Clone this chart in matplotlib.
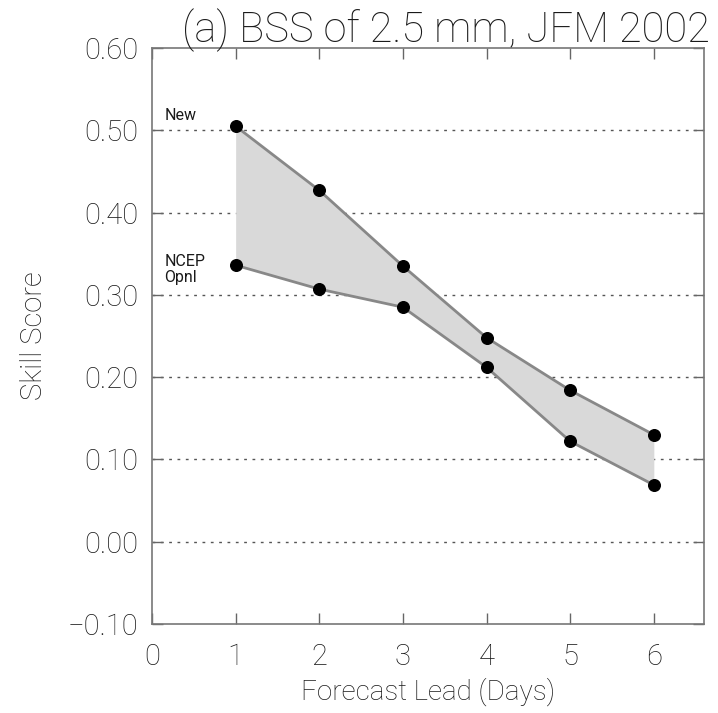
import matplotlib
matplotlib.use('Agg')
import matplotlib.pyplot as plt

# Дані
days = [1, 2, 3, 4, 5, 6]
bss_new = [0.505, 0.427, 0.335, 0.248, 0.184, 0.130]
bss_ncep = [0.336, 0.307, 0.285, 0.212, 0.122, 0.069]
x_ticks = [0, 1, 2, 3, 4, 5, 6]
y_ticks = [-0.10, 0.00, 0.10, 0.20, 0.30, 0.40, 0.50, 0.60]
grid_levels = [0.00, 0.10, 0.20, 0.30, 0.40, 0.50]

text_color = '#1a1a1a'
plt.rcParams['font.family'] = ['Roboto', 'DejaVu Sans']
plt.rcParams['font.weight'] = 'light'
plt.rcParams['axes.titleweight'] = 'light'
plt.rcParams['axes.labelweight'] = 'light'

fig = plt.figure(figsize=(7.18, 7.13), dpi=100)
ax = fig.add_axes([0.2117, 0.1248, 0.7688, 0.8079])

# Сітка
for g in grid_levels:
    ax.axhline(g, color='#555555', linestyle=(0, (2, 4)), linewidth=1.0, zorder=1)

# Область між кривими
ax.fill_between(days, bss_ncep, bss_new, color='#d9d9d9', zorder=2, linewidth=0)
ax.plot(days, bss_new, color='#888888', linewidth=2, zorder=3)
ax.plot(days, bss_ncep, color='#888888', linewidth=2, zorder=3)
ax.scatter(days, bss_new, s=70, color='black', zorder=4)
ax.scatter(days, bss_ncep, s=70, color='black', zorder=4)

ax.text(0.15, bss_new[0] + 0.004, 'New', fontsize=11.5, color=text_color,
        va='bottom', weight='normal')
ax.text(0.15, bss_ncep[0] - 0.005, 'NCEP\nOpnl', fontsize=11.5, color=text_color,
        va='center', linespacing=1.1, weight='normal')

ax.set_xlim(0, 6.6)
ax.set_ylim(-0.10, 0.60)
ax.set_xticks(x_ticks)
ax.set_yticks(y_ticks)
ax.set_yticklabels([f'{v:.2f}'.replace('-', '\u2212') for v in y_ticks])
ax.tick_params(direction='in', top=True, right=True, length=8, width=1,
               color='#666666', labelsize=21, labelcolor=text_color, pad=10)
ax.tick_params(axis='x', pad=14)
for s in ax.spines.values():
    s.set_color('#777777')
    s.set_linewidth(1.2)

ax.set_xlabel('Forecast Lead (Days)', fontsize=20, color=text_color, labelpad=4)
ax.set_ylabel('Skill Score', fontsize=21, color=text_color, labelpad=14)
ax.set_title('(a) BSS of 2.5 mm, JFM 2002', fontsize=30, color=text_color,
             loc='right', x=1.01, pad=4)

fig.savefig('out.png', dpi=100)
